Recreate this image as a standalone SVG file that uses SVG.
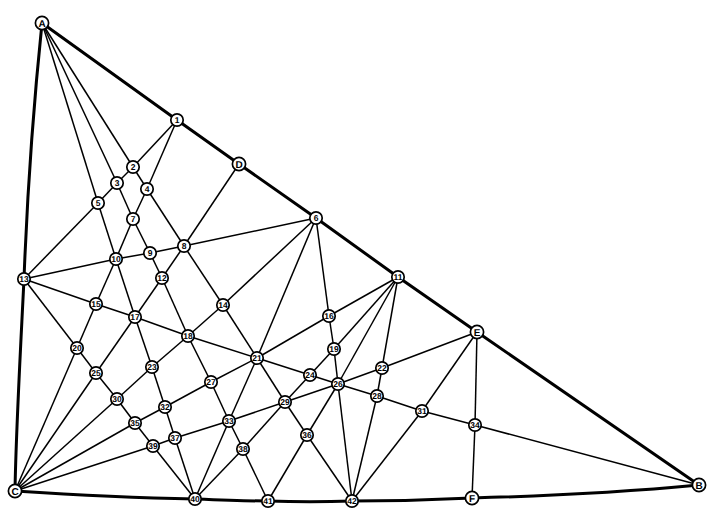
<svg xmlns="http://www.w3.org/2000/svg" width="720" height="517" viewBox="0 0 720 517">
<style>
.b{fill:none;stroke:#000;stroke-width:3}
.e{stroke:#000;stroke-width:1.5}
circle{fill:#fff;stroke:#000;stroke-width:1.7}
text{font-family:"Liberation Sans",Arial,sans-serif;font-size:8.5px;font-weight:700;text-anchor:middle;fill:#000;text-rendering:geometricPrecision}
.l{font-size:10px}
</style>
<rect width="720" height="517" fill="#fff"/>
<g id="connectors">
<path class="b" d="M42 23L177 120L239 164L316 218L398 277L477 332L699 485"/>
<path class="b" d="M42 23C33 110 27 200 24 279C20 360 16 430 15 491"/>
<path class="b" d="M15 491C75 495 135 498 195 499C220 500 245 501 268 501C295 502 325 502 352 501C392 501 432 500 472 498C550 496 625 492 699 485"/>
<line class="e" x1="42" y1="23" x2="133" y2="167"/>
<line class="e" x1="42" y1="23" x2="117" y2="183"/>
<line class="e" x1="42" y1="23" x2="98" y2="203"/>
<line class="e" x1="177" y1="120" x2="133" y2="167"/>
<line class="e" x1="177" y1="120" x2="147" y2="189"/>
<line class="e" x1="239" y1="164" x2="184" y2="246"/>
<line class="e" x1="133" y1="167" x2="117" y2="183"/>
<line class="e" x1="117" y1="183" x2="98" y2="203"/>
<line class="e" x1="98" y1="203" x2="24" y2="279"/>
<line class="e" x1="133" y1="167" x2="147" y2="189"/>
<line class="e" x1="147" y1="189" x2="184" y2="246"/>
<line class="e" x1="184" y1="246" x2="223" y2="305"/>
<line class="e" x1="223" y1="305" x2="257" y2="358"/>
<line class="e" x1="117" y1="183" x2="133" y2="219"/>
<line class="e" x1="133" y1="219" x2="150" y2="253"/>
<line class="e" x1="150" y1="253" x2="162" y2="278"/>
<line class="e" x1="162" y1="278" x2="188" y2="336"/>
<line class="e" x1="188" y1="336" x2="211" y2="382"/>
<line class="e" x1="211" y1="382" x2="229" y2="421"/>
<line class="e" x1="229" y1="421" x2="243" y2="449"/>
<line class="e" x1="243" y1="449" x2="268" y2="501"/>
<line class="e" x1="98" y1="203" x2="116" y2="259"/>
<line class="e" x1="116" y1="259" x2="135" y2="317"/>
<line class="e" x1="135" y1="317" x2="152" y2="367"/>
<line class="e" x1="152" y1="367" x2="165" y2="407"/>
<line class="e" x1="165" y1="407" x2="175" y2="438"/>
<line class="e" x1="175" y1="438" x2="195" y2="499"/>
<line class="e" x1="147" y1="189" x2="133" y2="219"/>
<line class="e" x1="133" y1="219" x2="116" y2="259"/>
<line class="e" x1="116" y1="259" x2="96" y2="304"/>
<line class="e" x1="96" y1="304" x2="77" y2="348"/>
<line class="e" x1="77" y1="348" x2="15" y2="491"/>
<line class="e" x1="184" y1="246" x2="162" y2="278"/>
<line class="e" x1="162" y1="278" x2="135" y2="317"/>
<line class="e" x1="135" y1="317" x2="96" y2="373"/>
<line class="e" x1="96" y1="373" x2="15" y2="491"/>
<line class="e" x1="316" y1="218" x2="184" y2="246"/>
<line class="e" x1="184" y1="246" x2="150" y2="253"/>
<line class="e" x1="150" y1="253" x2="116" y2="259"/>
<line class="e" x1="116" y1="259" x2="24" y2="279"/>
<line class="e" x1="316" y1="218" x2="223" y2="305"/>
<line class="e" x1="223" y1="305" x2="188" y2="336"/>
<line class="e" x1="188" y1="336" x2="152" y2="367"/>
<line class="e" x1="152" y1="367" x2="117" y2="399"/>
<line class="e" x1="117" y1="399" x2="15" y2="491"/>
<line class="e" x1="316" y1="218" x2="257" y2="358"/>
<line class="e" x1="257" y1="358" x2="229" y2="421"/>
<line class="e" x1="229" y1="421" x2="195" y2="499"/>
<line class="e" x1="316" y1="218" x2="329" y2="316"/>
<line class="e" x1="329" y1="316" x2="334" y2="349"/>
<line class="e" x1="334" y1="349" x2="338" y2="384"/>
<line class="e" x1="338" y1="384" x2="352" y2="501"/>
<line class="e" x1="398" y1="277" x2="329" y2="316"/>
<line class="e" x1="329" y1="316" x2="257" y2="358"/>
<line class="e" x1="257" y1="358" x2="211" y2="382"/>
<line class="e" x1="211" y1="382" x2="165" y2="407"/>
<line class="e" x1="165" y1="407" x2="135" y2="423"/>
<line class="e" x1="135" y1="423" x2="15" y2="491"/>
<line class="e" x1="398" y1="277" x2="334" y2="349"/>
<line class="e" x1="334" y1="349" x2="310" y2="375"/>
<line class="e" x1="310" y1="375" x2="285" y2="402"/>
<line class="e" x1="285" y1="402" x2="243" y2="449"/>
<line class="e" x1="243" y1="449" x2="195" y2="499"/>
<line class="e" x1="398" y1="277" x2="338" y2="384"/>
<line class="e" x1="338" y1="384" x2="307" y2="435"/>
<line class="e" x1="307" y1="435" x2="268" y2="501"/>
<line class="e" x1="398" y1="277" x2="382" y2="368"/>
<line class="e" x1="382" y1="368" x2="377" y2="396"/>
<line class="e" x1="377" y1="396" x2="352" y2="501"/>
<line class="e" x1="477" y1="332" x2="382" y2="368"/>
<line class="e" x1="382" y1="368" x2="338" y2="384"/>
<line class="e" x1="338" y1="384" x2="285" y2="402"/>
<line class="e" x1="285" y1="402" x2="229" y2="421"/>
<line class="e" x1="229" y1="421" x2="175" y2="438"/>
<line class="e" x1="175" y1="438" x2="153" y2="446"/>
<line class="e" x1="153" y1="446" x2="15" y2="491"/>
<line class="e" x1="477" y1="332" x2="422" y2="411"/>
<line class="e" x1="422" y1="411" x2="352" y2="501"/>
<line class="e" x1="477" y1="332" x2="475" y2="425"/>
<line class="e" x1="475" y1="425" x2="472" y2="498"/>
<line class="e" x1="699" y1="485" x2="475" y2="425"/>
<line class="e" x1="475" y1="425" x2="422" y2="411"/>
<line class="e" x1="422" y1="411" x2="377" y2="396"/>
<line class="e" x1="377" y1="396" x2="338" y2="384"/>
<line class="e" x1="338" y1="384" x2="310" y2="375"/>
<line class="e" x1="310" y1="375" x2="257" y2="358"/>
<line class="e" x1="257" y1="358" x2="188" y2="336"/>
<line class="e" x1="188" y1="336" x2="135" y2="317"/>
<line class="e" x1="135" y1="317" x2="96" y2="304"/>
<line class="e" x1="96" y1="304" x2="24" y2="279"/>
<line class="e" x1="24" y1="279" x2="77" y2="348"/>
<line class="e" x1="77" y1="348" x2="96" y2="373"/>
<line class="e" x1="96" y1="373" x2="117" y2="399"/>
<line class="e" x1="117" y1="399" x2="135" y2="423"/>
<line class="e" x1="135" y1="423" x2="153" y2="446"/>
<line class="e" x1="153" y1="446" x2="195" y2="499"/>
<line class="e" x1="257" y1="358" x2="285" y2="402"/>
<line class="e" x1="285" y1="402" x2="307" y2="435"/>
<line class="e" x1="307" y1="435" x2="352" y2="501"/>
</g>
<g id="nA"><circle cx="42" cy="23" r="6.6"/><text class="l" x="42" y="26.5">A</text></g>
<g id="nB"><circle cx="699" cy="485" r="6.6"/><text class="l" x="699" y="488.5">B</text></g>
<g id="nC"><circle cx="15" cy="491" r="6.6"/><text class="l" x="15" y="494.5">C</text></g>
<g id="nD"><circle cx="239" cy="164" r="6.6"/><text class="l" x="239" y="167.5">D</text></g>
<g id="nE"><circle cx="477" cy="332" r="6.6"/><text class="l" x="477" y="335.5">E</text></g>
<g id="nF"><circle cx="472" cy="498" r="6.6"/><text class="l" x="472" y="501.5">F</text></g>
<g id="n1"><circle cx="177" cy="120" r="6.2"/><text x="177" y="123">1</text></g>
<g id="n2"><circle cx="133" cy="167" r="6.2"/><text x="133" y="170">2</text></g>
<g id="n3"><circle cx="117" cy="183" r="6.2"/><text x="117" y="186">3</text></g>
<g id="n4"><circle cx="147" cy="189" r="6.2"/><text x="147" y="192">4</text></g>
<g id="n5"><circle cx="98" cy="203" r="6.2"/><text x="98" y="206">5</text></g>
<g id="n6"><circle cx="316" cy="218" r="6.2"/><text x="316" y="221">6</text></g>
<g id="n7"><circle cx="133" cy="219" r="6.2"/><text x="133" y="222">7</text></g>
<g id="n8"><circle cx="184" cy="246" r="6.2"/><text x="184" y="249">8</text></g>
<g id="n9"><circle cx="150" cy="253" r="6.2"/><text x="150" y="256">9</text></g>
<g id="n10"><circle cx="116" cy="259" r="6.2"/><text x="116" y="262">10</text></g>
<g id="n11"><circle cx="398" cy="277" r="6.2"/><text x="398" y="280">11</text></g>
<g id="n12"><circle cx="162" cy="278" r="6.2"/><text x="162" y="281">12</text></g>
<g id="n13"><circle cx="24" cy="279" r="6.2"/><text x="24" y="282">13</text></g>
<g id="n14"><circle cx="223" cy="305" r="6.2"/><text x="223" y="308">14</text></g>
<g id="n15"><circle cx="96" cy="304" r="6.2"/><text x="96" y="307">15</text></g>
<g id="n16"><circle cx="329" cy="316" r="6.2"/><text x="329" y="319">16</text></g>
<g id="n17"><circle cx="135" cy="317" r="6.2"/><text x="135" y="320">17</text></g>
<g id="n18"><circle cx="188" cy="336" r="6.2"/><text x="188" y="339">18</text></g>
<g id="n19"><circle cx="334" cy="349" r="6.2"/><text x="334" y="352">19</text></g>
<g id="n20"><circle cx="77" cy="348" r="6.2"/><text x="77" y="351">20</text></g>
<g id="n21"><circle cx="257" cy="358" r="6.2"/><text x="257" y="361">21</text></g>
<g id="n22"><circle cx="382" cy="368" r="6.2"/><text x="382" y="371">22</text></g>
<g id="n23"><circle cx="152" cy="367" r="6.2"/><text x="152" y="370">23</text></g>
<g id="n24"><circle cx="310" cy="375" r="6.2"/><text x="310" y="378">24</text></g>
<g id="n25"><circle cx="96" cy="373" r="6.2"/><text x="96" y="376">25</text></g>
<g id="n26"><circle cx="338" cy="384" r="6.2"/><text x="338" y="387">26</text></g>
<g id="n27"><circle cx="211" cy="382" r="6.2"/><text x="211" y="385">27</text></g>
<g id="n28"><circle cx="377" cy="396" r="6.2"/><text x="377" y="399">28</text></g>
<g id="n29"><circle cx="285" cy="402" r="6.2"/><text x="285" y="405">29</text></g>
<g id="n30"><circle cx="117" cy="399" r="6.2"/><text x="117" y="402">30</text></g>
<g id="n31"><circle cx="422" cy="411" r="6.2"/><text x="422" y="414">31</text></g>
<g id="n32"><circle cx="165" cy="407" r="6.2"/><text x="165" y="410">32</text></g>
<g id="n33"><circle cx="229" cy="421" r="6.2"/><text x="229" y="424">33</text></g>
<g id="n34"><circle cx="475" cy="425" r="6.2"/><text x="475" y="428">34</text></g>
<g id="n35"><circle cx="135" cy="423" r="6.2"/><text x="135" y="426">35</text></g>
<g id="n36"><circle cx="307" cy="435" r="6.2"/><text x="307" y="438">36</text></g>
<g id="n37"><circle cx="175" cy="438" r="6.2"/><text x="175" y="441">37</text></g>
<g id="n38"><circle cx="243" cy="449" r="6.2"/><text x="243" y="452">38</text></g>
<g id="n39"><circle cx="153" cy="446" r="6.2"/><text x="153" y="449">39</text></g>
<g id="n40"><circle cx="195" cy="499" r="6.2"/><text x="195" y="502">40</text></g>
<g id="n41"><circle cx="268" cy="501" r="6.2"/><text x="268" y="504">41</text></g>
<g id="n42"><circle cx="352" cy="501" r="6.2"/><text x="352" y="504">42</text></g>
</svg>
